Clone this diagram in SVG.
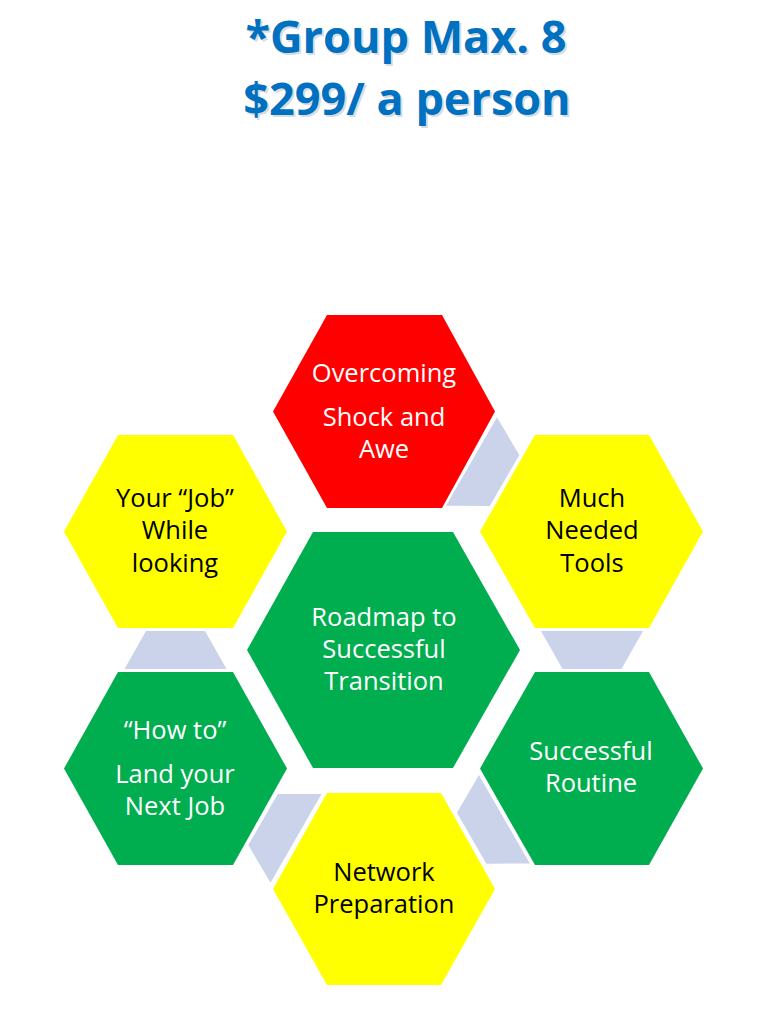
<svg xmlns="http://www.w3.org/2000/svg" width="772" height="1009" viewBox="0 0 772 1009">
<style>
.title{font-family:"Open Sans","Liberation Sans",sans-serif;font-weight:bold;font-size:45px;fill:#0070C0;text-anchor:middle}
.shadow{font-family:"Open Sans","Liberation Sans",sans-serif;font-weight:bold;font-size:45px;fill:#a9b3c0;opacity:0.45;text-anchor:middle}
.lbl{font-family:"Open Sans","Noto Sans","Liberation Sans",sans-serif;font-size:25.5px;text-anchor:middle}
.w{fill:#FFFFFF}
.k{fill:#000000}
.red{fill:#FF0000}
.yel{fill:#FFFF00}
.grn{fill:#00AE50}
.conn{fill:#CBD3EA}
</style>
<rect width="772" height="1009" fill="#FFFFFF"/>
<g id="title">
<text class="shadow" x="408" y="55">*Group Max. 8</text>
<text class="shadow" x="409" y="117">$299/ a person</text>
<text class="title" x="406" y="53">*Group Max. 8</text>
<text class="title" x="407" y="115">$299/ a person</text>
</g>
<g id="connectors">
<polygon class="conn" points="497,417.3 519.3,455 489.8,506 446,505.7"/>
<polygon class="conn" points="541,631 643,631 621.5,669 562.5,669"/>
<polygon class="conn" points="478.9,775 529.9,863.4 486.4,863.8 456.9,812.8"/>
<polygon class="conn" points="321.5,794 277.8,794 248.3,845 270.5,882.7"/>
<polygon class="conn" points="124.5,669 226.5,669 205,631 146,631"/>
</g>
<g id="node-center">
<polygon class="grn" points="313,532 453,532 520,650 453,768 313,768 247,650"/>
<text class="lbl w" x="384" y="626">Roadmap to</text>
<text class="lbl w" x="384" y="658">Successful</text>
<text class="lbl w" x="384" y="690">Transition</text>
</g>
<g id="node-overcoming">
<polygon class="red" points="327,315 442,315 495,411.5 442,508 327,508 273,411.5"/>
<text class="lbl w" x="384" y="382">Overcoming</text>
<text class="lbl w" x="384" y="426">Shock and</text>
<text class="lbl w" x="384" y="458">Awe</text>
</g>
<g id="node-tools">
<polygon class="yel" points="535,435 649,435 703,531.5 649,628 535,628 480,531.5"/>
<text class="lbl k" x="592" y="507">Much</text>
<text class="lbl k" x="592" y="539">Needed</text>
<text class="lbl k" x="592" y="572">Tools</text>
</g>
<g id="node-routine">
<polygon class="grn" points="535,672 649,672 703,768.5 649,865 535,865 480,768.5"/>
<text class="lbl w" x="591" y="760">Successful</text>
<text class="lbl w" x="591" y="792">Routine</text>
</g>
<g id="node-network">
<polygon class="yel" points="327,793 441,793 495,889 441,985 327,985 273,889"/>
<text class="lbl k" x="384" y="881">Network</text>
<text class="lbl k" x="384" y="913">Preparation</text>
</g>
<g id="node-howto">
<polygon class="grn" points="118,672 233,672 287,768.5 233,865 118,865 64,768.5"/>
<text class="lbl w" x="175" y="739">“How to”</text>
<text class="lbl w" x="175" y="783">Land your</text>
<text class="lbl w" x="175" y="815">Next Job</text>
</g>
<g id="node-yourjob">
<polygon class="yel" points="118,435 233,435 287,531.5 233,628 118,628 64,531.5"/>
<text class="lbl k" x="175" y="507">Your “Job”</text>
<text class="lbl k" x="175" y="539">While</text>
<text class="lbl k" x="175" y="572">looking</text>
</g>
</svg>
